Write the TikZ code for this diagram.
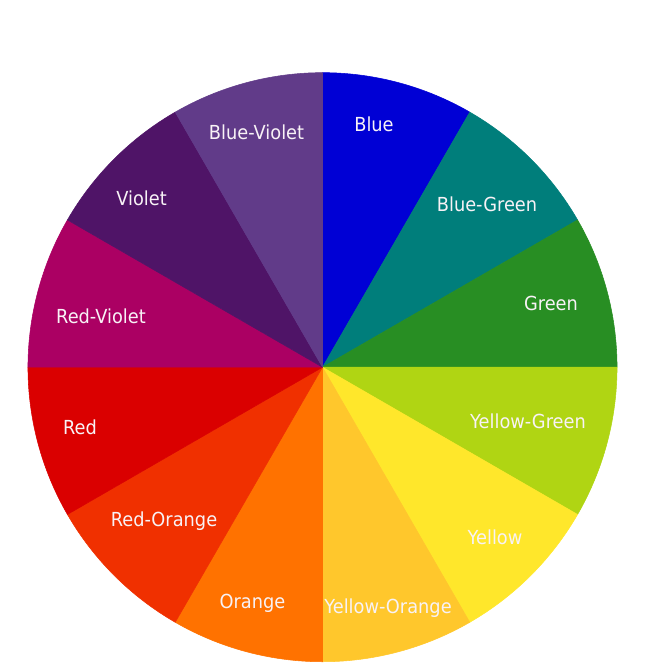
\documentclass[tikz,border=0pt]{standalone}
\usepackage{fontspec}
\setmainfont[FakeStretch=0.92]{DejaVu Sans}
\definecolor{cBlue}{HTML}{0000D5}
\definecolor{cBlueGreen}{HTML}{007E7B}
\definecolor{cGreen}{HTML}{288E23}
\definecolor{cYellowGreen}{HTML}{B0D513}
\definecolor{cYellow}{HTML}{FFE72B}
\definecolor{cYellowOrange}{HTML}{FFC72C}
\definecolor{cOrange}{HTML}{FF7200}
\definecolor{cRedOrange}{HTML}{F03000}
\definecolor{cRed}{HTML}{DA0000}
\definecolor{cRedViolet}{HTML}{AB0063}
\definecolor{cViolet}{HTML}{4F1467}
\definecolor{cBlueViolet}{HTML}{613B89}
\definecolor{txt}{HTML}{F8F2F6}
\tikzset{
  lbl/.style={text=txt, font=\fontsize{14.5pt}{16pt}\selectfont, inner sep=0pt, anchor=center},
  sector/.style={fill=#1, draw=#1, line width=0.4pt, line join=round}
}
\begin{document}
\begin{tikzpicture}[x=0.75pt,y=0.75pt]
\useasboundingbox (0,0) rectangle (649,-667);
\coordinate (C) at (322.5,-367.2);
\def\R{220.9pt}
\foreach \a/\c in {60/cBlue,30/cBlueGreen,0/cGreen,-30/cYellowGreen,-60/cYellow,-90/cYellowOrange,-120/cOrange,-150/cRedOrange,-180/cRed,150/cRedViolet,120/cViolet,90/cBlueViolet}{
  \path[sector=\c] (C) -- ++(\a:\R) arc[start angle=\a, end angle=\a+30, radius=\R] -- cycle;
}
\node[lbl] (blue) at (374,-124) {Blue};
\node[lbl] (bluegreen) at (487,-204) {Blue-Green};
\node[lbl] (green) at (551,-303) {Green};
\node[lbl] (yellowgreen) at (528,-421) {Yellow-Green};
\node[lbl] (yellow) at (495,-537) {Yellow};
\node[lbl] (yelloworange) at (388,-608) {Yellow-Orange};
\node[lbl] (orange) at (252.5,-603) {Orange};
\node[lbl] (redorange) at (164,-521) {Red-Orange};
\node[lbl] (red) at (80,-427) {Red};
\node[lbl] (redviolet) at (101,-316) {Red-Violet};
\node[lbl] (violet) at (141.5,-198) {Violet};
\node[lbl] (blueviolet) at (256.5,-132) {Blue-Violet};
\end{tikzpicture}
\end{document}
